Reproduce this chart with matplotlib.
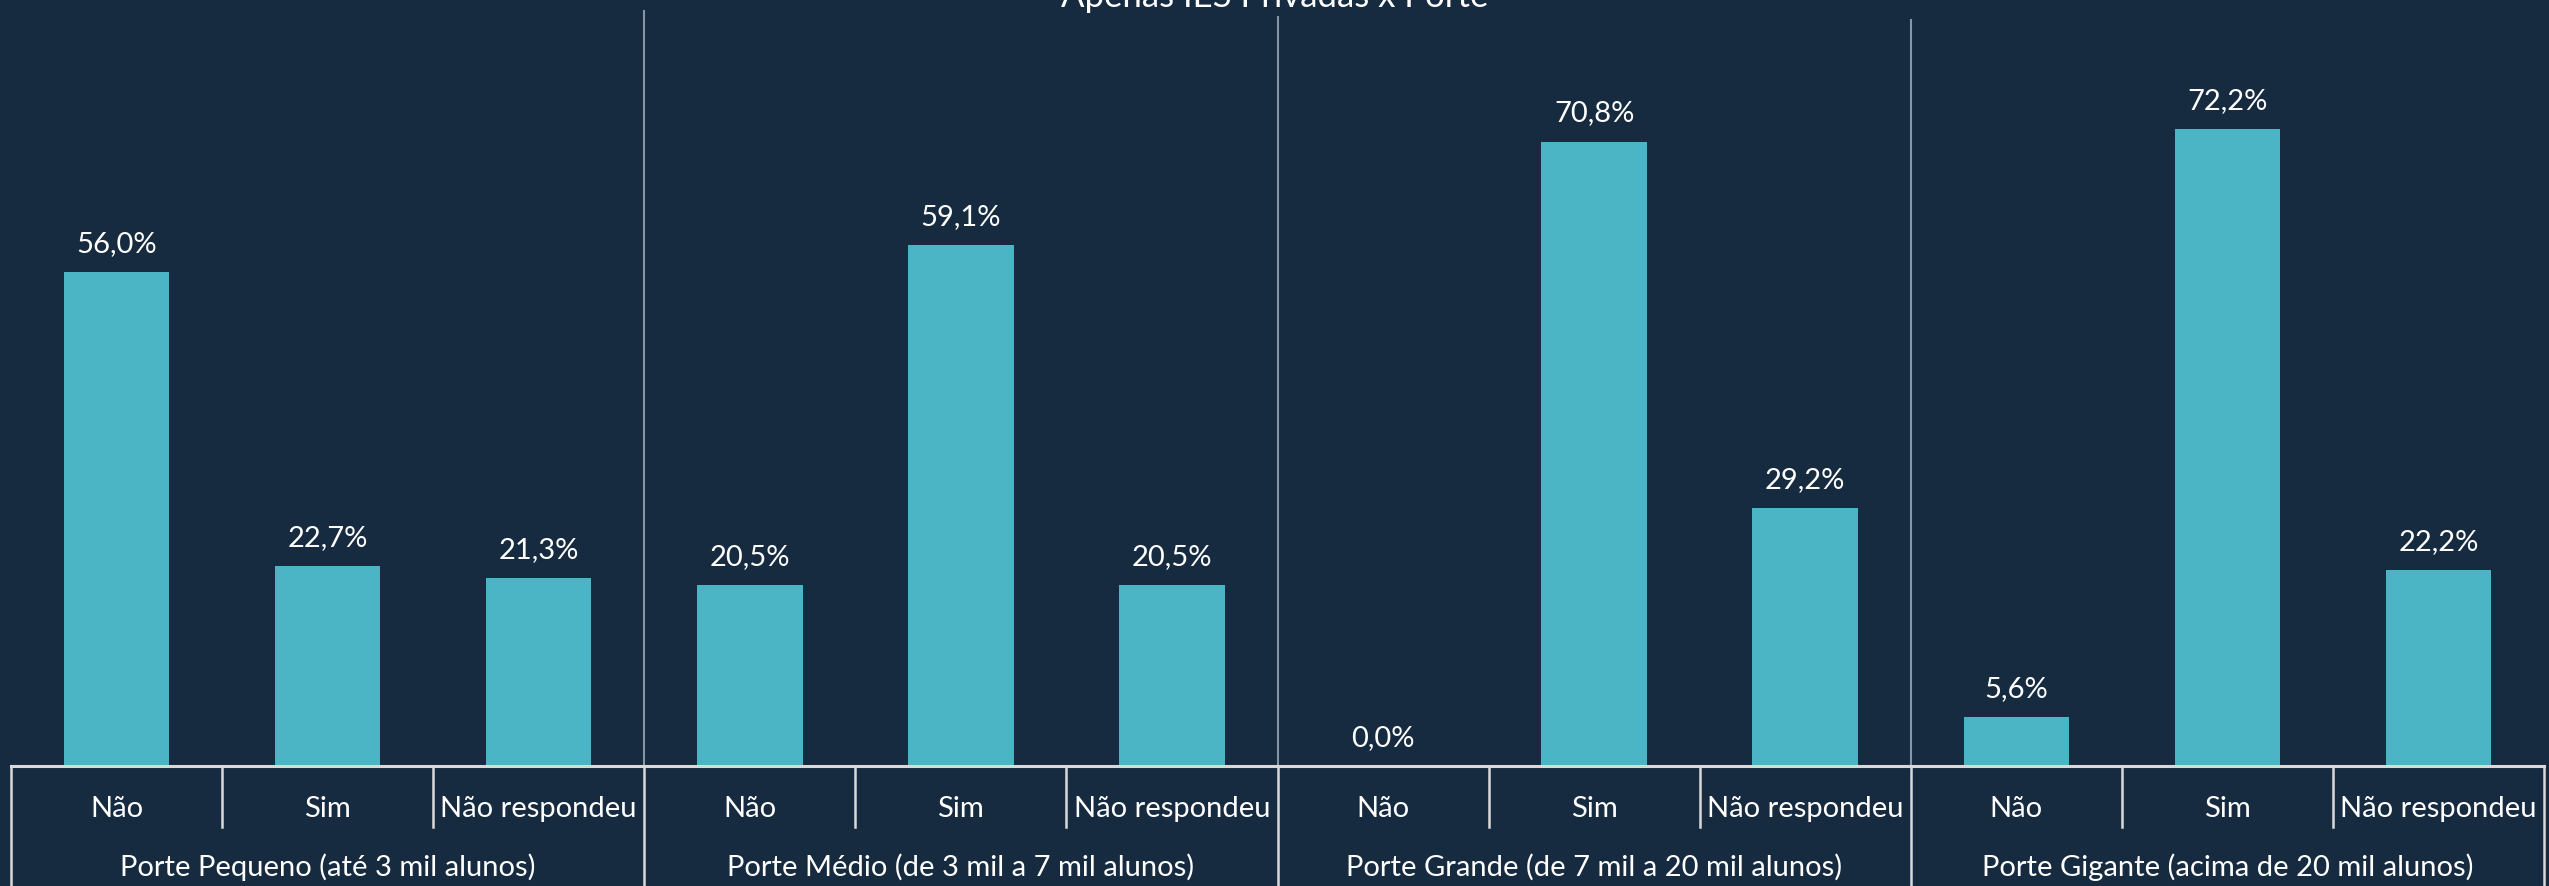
import numpy as np
import matplotlib
matplotlib.use("Agg")
import matplotlib.pyplot as plt

#Data

title = "Apenas IES Privadas x Porte"
groups = ["Porte Pequeno (até 3 mil alunos)",
          "Porte Médio (de 3 mil a 7 mil alunos)",
          "Porte Grande (de 7 mil a 20 mil alunos)",
          "Porte Gigante (acima de 20 mil alunos)"]
answers = ["Não", "Sim", "Não respondeu"]
pequeno = [56.0, 22.7, 21.3]
medio = [20.5, 59.1, 20.5]
grande = [0.0, 70.8, 29.2]
gigante = [5.6, 72.2, 22.2]

#Style

bg = "#172b40"
bar_color = "#4bb5c5"
axis_color = "#d9d9d9"
sep_color = "#8796a5"
font = "Lato"
fs = 21

plt.rcParams['font.family'] = [font, 'DejaVu Sans']

W, H = 2549, 886
fig = plt.figure(figsize=(W/100, H/100), dpi=100, facecolor=bg)
x0, x1, yax = 11, 2544, 766
ax = fig.add_axes([x0/W, (H-yax)/H, (x1-x0)/W, yax/H])
ax.set_facecolor(bg)

values = pequeno + medio + grande
values = values + gigante
labels = answers * len(groups)
n = len(values)
xs = np.arange(n)

ax.bar(xs, values, width=0.5, color=bar_color, zorder=2)
ax.set_xlim(-0.5, n - 0.5)
ax.set_ylim(0, yax/8.82)
for s in ax.spines.values():
    s.set_visible(False)
ax.set_xticks([])
ax.set_yticks([])

px = 0.72  # points per pixel
tr = ax.get_xaxis_transform()

#Value labels
for x, v in zip(xs, values):
    ax.annotate(f"{v:.1f}".replace(".", ",") + "%", (x, v), xytext=(0, 20*px),
                textcoords="offset points", ha="center", va="baseline",
                color="white", fontsize=fs)

#Category labels
for x, lab in zip(xs, labels):
    ax.annotate(lab, (x, 0), xycoords=tr, xytext=(0, -51*px),
                textcoords="offset points", ha="center", va="baseline",
                color="white", fontsize=fs, annotation_clip=False)

#Group labels
for i, g in enumerate(groups):
    ax.annotate(g, (3*i + 1, 0), xycoords=tr, xytext=(0, -110*px),
                textcoords="offset points", ha="center", va="baseline",
                color="white", fontsize=fs, annotation_clip=False)

#Axis line and separators
ax.plot([0, 1], [0, 0], transform=ax.transAxes, color=axis_color, lw=2.2,
        clip_on=False, zorder=3)
for b in np.arange(n + 1) - 0.5:
    depth = 120 if (b + 0.5) % 3 == 0 else 61
    ax.plot([b, b], [0, -depth/yax], transform=tr, color=axis_color, lw=1.8,
            clip_on=False, zorder=3)

#Vertical lines between groups
tops = [11, 17, 20]
for i, t in enumerate(tops):
    b = 3*(i + 1) - 0.5
    ax.plot([b, b], [0, (yax - t)/yax], transform=tr, color=sep_color, lw=1.5,
            clip_on=False, zorder=1)

fig.text(0.5, 1 - 7/H, title, ha="center", va="baseline", color="white",
         fontsize=25)

fig.savefig("out.png", dpi=100, facecolor=bg)
